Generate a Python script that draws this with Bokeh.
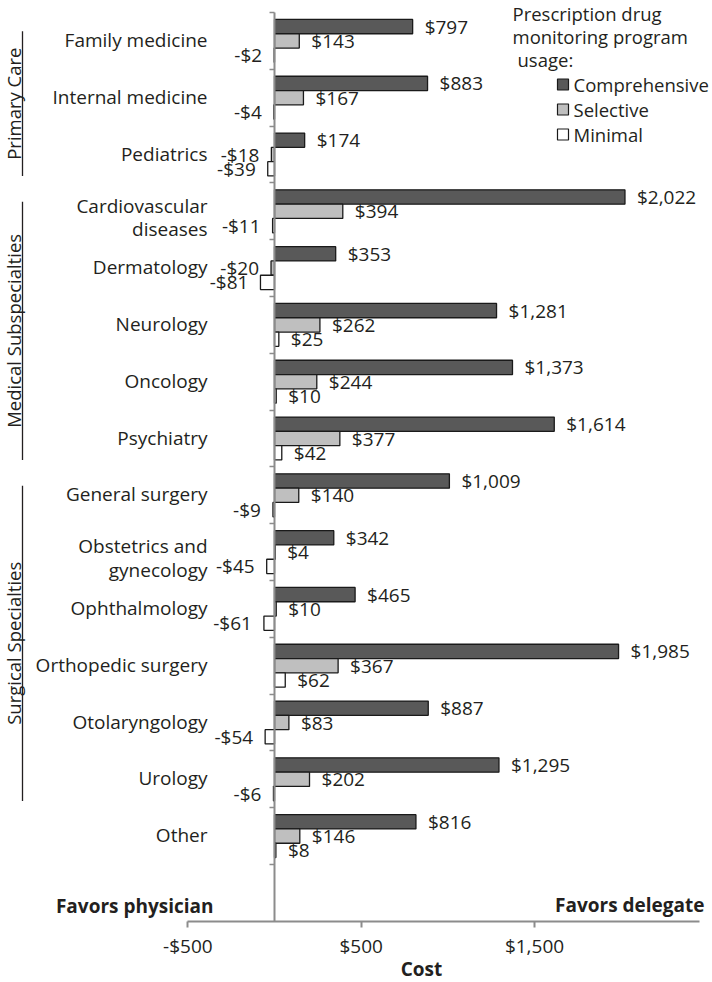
import numpy as np
from bokeh.plotting import figure
from bokeh.models import ColumnDataSource, Range1d, FixedTicker
from bokeh.core.properties import value
from bokeh.embed import file_html
from bokeh.resources import INLINE

# ---------------- data ----------------
categories = ["Family medicine", "Internal medicine", "Pediatrics",
              "Cardiovascular\ndiseases", "Dermatology", "Neurology", "Oncology",
              "Psychiatry", "General surgery", "Obstetrics and\ngynecology",
              "Ophthalmology", "Orthopedic surgery", "Otolaryngology", "Urology", "Other"]
comprehensive = [797, 883, 174, 2022, 353, 1281, 1373, 1614, 1009, 342, 465, 1985, 887, 1295, 816]
selective = [143, 167, -18, 394, -20, 262, 244, 377, 140, 4, 10, 367, 83, 202, 146]
minimal = [-2, -4, -39, -11, -81, 25, 10, 42, -9, -45, -61, 62, -54, -6, 8]
series_names = ["Comprehensive", "Selective", "Minimal"]
series_colors = ["#595959", "#bfbfbf", "#ffffff"]
groups = ["Primary Care", "Medical Subspecialties", "Surgical Specialties"]
group_first = [0, 3, 8]
group_last = [2, 7, 13]
x_tick_values = [-500, 500, 1500]
x_tick_labels = ["-$500", "$500", "$1,500"]
legend_title_lines = ["Prescription drug", "monitoring program", "usage:"]
axis_title = "Cost"
left_note = "Favors physician"
right_note = "Favors delegate"

# ---------------- layout ----------------
W, H = 712, 982
PPU = 0.17333           # px per $ unit
ZERO_PX = 274           # frame x of zero
BAND = 56.8             # px per category band
TOP_PAD = 12
x_start = -ZERO_PX / PPU
x_end = x_start + W / PPU
y_top = -TOP_PAD / BAND
y_bottom = y_top + H / BAND

def xd(px):
    return x_start + px / PPU

def yd(py):
    return y_top + py / BAND

INK = "#231f20"
AX = "#8c8c8c"
FONT = value("Open Sans")
FS = "19px"

p = figure(width=W, height=H, x_range=Range1d(x_start, x_end),
           y_range=Range1d(y_bottom, y_top), output_backend="svg",
           toolbar_location=None, min_border_left=0, min_border_right=0,
           min_border_top=0, min_border_bottom=0)
p.outline_line_color = None
p.grid.visible = False

n = len(categories)
centers = np.arange(n) + 0.5
BAR_H = 0.252
offsets = [-BAR_H, 0.0, BAR_H]

def money(v):
    return f"-${abs(v):,}" if v < 0 else f"${v:,}"

pos_x, pos_y, pos_t, neg_x, neg_y, neg_t = [], [], [], [], [], []
for vals, off, name, col in zip([comprehensive, selective, minimal], offsets, series_names, series_colors):
    ys = centers + off
    src = ColumnDataSource(dict(y=ys, right=vals))
    p.hbar(y="y", left=0, right="right", height=BAR_H, source=src,
           fill_color=col, line_color="#1a1a1a", line_width=1.3)
    for v, y in zip(vals, ys):
        if v < 0:
            neg_x.append(v); neg_y.append(y); neg_t.append(money(v))
        else:
            pos_x.append(v); pos_y.append(y); pos_t.append(money(v))

p.text(x=pos_x, y=pos_y, text=pos_t, x_offset=12, text_align="left", text_baseline="middle",
       text_font=FONT, text_font_size=FS, text_color=INK)
p.text(x=neg_x, y=neg_y, text=neg_t, x_offset=-12, text_align="right", text_baseline="middle",
       text_font=FONT, text_font_size=FS, text_color=INK)

# category labels
cat_src = ColumnDataSource(dict(x=[0] * n, y=centers, text=categories,
                                dy=[6 if "\n" in c else -1 for c in categories]))
p.text(x="x", y="y", text="text", y_offset="dy", x_offset=-67, source=cat_src, text_align="right",
       text_baseline="middle", text_font=FONT, text_font_size=FS, text_color=INK,
       text_line_height=0.9)

# group labels + brackets
g_top = [f + 0.33 for f in group_first]
g_bot = [l + 0.88 for l in group_last]
g_mid = [(a + b) / 2 for a, b in zip(g_top, g_bot)]
p.segment(x0=[xd(22)] * 3, x1=[xd(22)] * 3, y0=g_top, y1=g_bot, line_color=INK, line_width=1.3)
p.text(x=[xd(13)] * 3, y=g_mid, text=groups, angle=np.pi / 2, text_align="center",
       text_baseline="middle", text_font=FONT, text_font_size="18.5px", text_color=INK)

# favors notes
p.text(x=[0], y=[yd(905)], text=[left_note], x_offset=-61, text_align="right", text_baseline="middle",
       text_font=FONT, text_font_size="19px", text_font_style="bold", text_color=INK)
p.text(x=[x_end], y=[yd(904)], text=[right_note], x_offset=-8, text_align="right", text_baseline="middle",
       text_font=FONT, text_font_size="19px", text_font_style="bold", text_color=INK)

# axis title
p.text(x=[xd(421)], y=[yd(968)], text=[axis_title], text_align="center", text_baseline="middle",
       text_font=FONT, text_font_size=FS, text_font_style="bold", text_color=INK)

# legend (manual)
leg_rows = [yd(84), yd(109), yd(134)]
p.scatter(x=[xd(562.5)] * 3, y=leg_rows, marker="square", size=11, fill_color=series_colors,
          line_color="#1a1a1a", line_width=1.2)
p.text(x=[xd(573)] * 3, y=leg_rows, text=series_names, text_align="left", text_baseline="middle",
       text_font=FONT, text_font_size="18.5px", text_color=INK)
p.text(x=[xd(512), xd(512), xd(517)], y=[yd(13), yd(36), yd(59)], text=legend_title_lines,
       text_align="left", text_baseline="middle", text_font=FONT, text_font_size="18.5px", text_color=INK)

# x axis, drawn at the bottom edge of the last (empty) band
xa = p.xaxis[0]
xa.fixed_location = n + 1
xa.ticker = FixedTicker(ticks=x_tick_values)
xa.major_label_overrides = {v: t for v, t in zip(x_tick_values, x_tick_labels)}
xa.bounds = (-500, 2450)
xa.axis_line_color = AX
xa.axis_line_width = 2
xa.major_tick_line_color = AX
xa.major_tick_line_width = 2
xa.major_tick_out = 6
xa.major_tick_in = 0
xa.minor_tick_line_color = None
xa.major_label_standoff = 6
xa.major_label_text_font = "Open Sans"
xa.major_label_text_font_size = FS
xa.major_label_text_color = INK

# y axis at zero
ya = p.yaxis[0]
ya.fixed_location = 0
ya.ticker = FixedTicker(ticks=list(range(n + 1)))
ya.major_label_overrides = {i: "" for i in range(n + 1)}
ya.bounds = (0, n + 1)
ya.axis_line_color = AX
ya.axis_line_width = 2
ya.major_tick_line_color = AX
ya.major_tick_line_width = 1.5
ya.major_tick_out = 5
ya.major_tick_in = 0
ya.minor_tick_line_color = None

open("out.html", "w").write(file_html(p, INLINE))
